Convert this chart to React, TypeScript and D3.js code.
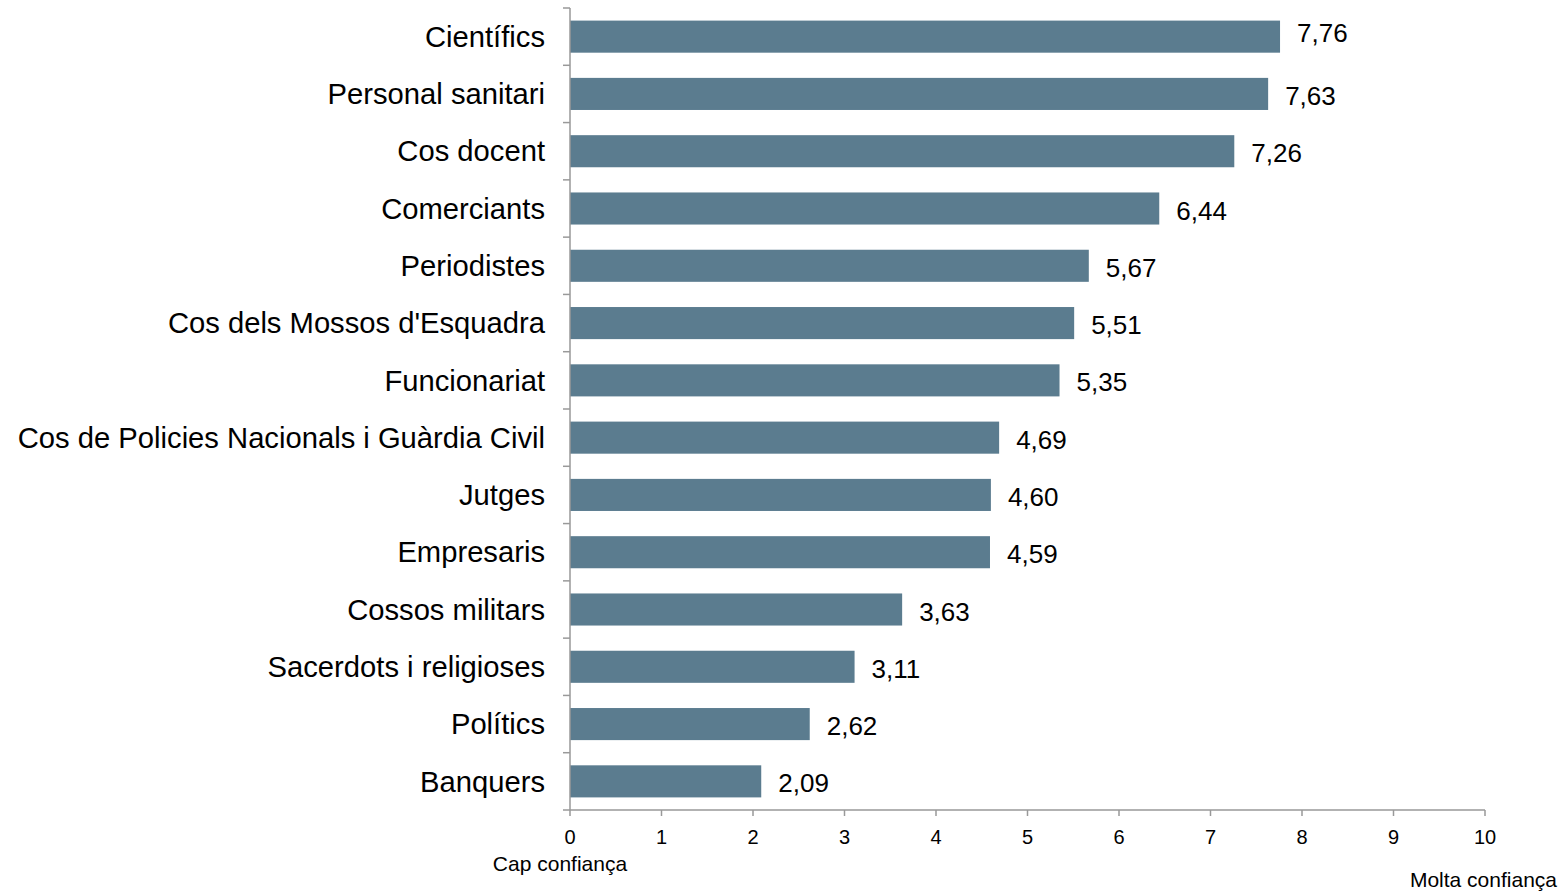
import React from "react";
import * as d3 from "d3";

const categories = [
  "Científics",
  "Personal sanitari",
  "Cos docent",
  "Comerciants",
  "Periodistes",
  "Cos dels Mossos d'Esquadra",
  "Funcionariat",
  "Cos de Policies Nacionals i Guàrdia Civil",
  "Jutges",
  "Empresaris",
  "Cossos militars",
  "Sacerdots i religioses",
  "Polítics",
  "Banquers",
];
const values = [7.76, 7.63, 7.26, 6.44, 5.67, 5.51, 5.35, 4.69, 4.6, 4.59, 3.63, 3.11, 2.62, 2.09];
const xTicks = [0, 1, 2, 3, 4, 5, 6, 7, 8, 9, 10];
const minLabel = "Cap confiança";
const maxLabel = "Molta confiança";

const W = 1563;
const H = 892;
const FONT = "'Liberation Sans', Arial, sans-serif";

export default function App() {
  const x = d3.scaleLinear().domain([0, 10]).range([570, 1485]);
  const y = d3
    .scaleBand<string>()
    .domain(categories)
    .range([8, 810])
    .paddingInner(0.44)
    .paddingOuter(0.22);
  const step = y.step();
  const top = 8;
  const bottom = 810;
  const fmt = (v: number) => v.toFixed(2).replace(".", ",");
  const axisColor = "#999999";

  return (
    <svg
      width={W}
      height={H}
      style={{ position: "absolute", left: 0, top: 0 }}
      fontFamily={FONT}
    >
      <rect width={W} height={H} fill="#ffffff" />
      {categories.map((c, i) => (
        <g key={c}>
          <rect
            x={x(0)}
            y={y(c)!}
            width={x(values[i]) - x(0)}
            height={y.bandwidth()}
            fill="#5b7c8f"
          />
          <text
            x={x(values[i]) + 17}
            y={y(c)! + y.bandwidth() / 2 + (i === 0 ? -4 : 2)}
            dy="0.35em"
            fontSize={26}
            fill="#000"
          >
            {fmt(values[i])}
          </text>
          <text
            x={545}
            y={y(c)! + y.bandwidth() / 2}
            dy="0.35em"
            fontSize={29.2}
            textAnchor="end"
            fill="#000"
          >
            {c}
          </text>
        </g>
      ))}
      {/* y axis */}
      <line x1={570} x2={570} y1={top} y2={bottom} stroke={axisColor} strokeWidth={1.5} />
      {d3.range(categories.length + 1).map((k) => (
        <line
          key={"yt" + k}
          x1={563}
          x2={570}
          y1={top + k * step}
          y2={top + k * step}
          stroke={axisColor}
          strokeWidth={1.5}
        />
      ))}
      {/* x axis */}
      <line x1={570} x2={x(10)} y1={bottom} y2={bottom} stroke={axisColor} strokeWidth={1.5} />
      {xTicks.map((t) => (
        <g key={"xt" + t}>
          <line
            x1={x(t)}
            x2={x(t)}
            y1={bottom}
            y2={bottom + 6}
            stroke={axisColor}
            strokeWidth={1.5}
          />
          <text x={x(t)} y={844} fontSize={20} textAnchor="middle" fill="#000">
            {t}
          </text>
        </g>
      ))}
      <text x={560} y={871} fontSize={21} textAnchor="middle" fill="#000">
        {minLabel}
      </text>
      <text x={1557} y={887} fontSize={21} textAnchor="end" fill="#000">
        {maxLabel}
      </text>
    </svg>
  );
}
